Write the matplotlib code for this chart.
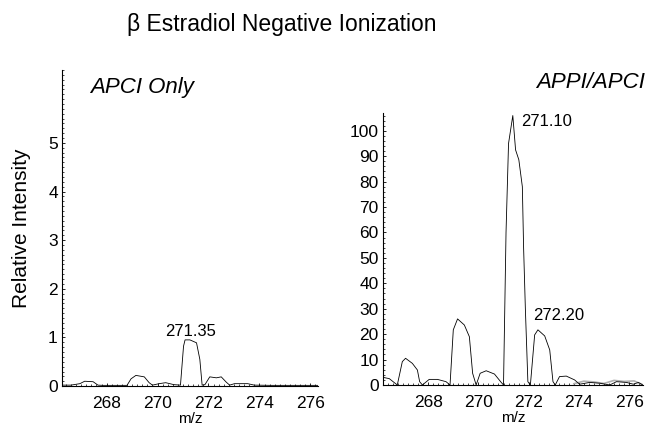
import numpy as np
import matplotlib
matplotlib.use("Agg")
import matplotlib.pyplot as plt
from matplotlib.ticker import MultipleLocator

plt.rcParams["font.family"] = ["Liberation Sans", "DejaVu Sans"]

# ── APCI only spectrum (left) ─────────────────────────────────
apci_mz = [266.25, 266.6, 266.95, 267.14, 267.47, 267.66, 267.86, 268.3, 268.8,
           268.96, 269.15, 269.48, 269.67, 269.8, 270.06, 270.32, 270.64, 270.9,
           271.02, 271.08, 271.27, 271.53, 271.66, 271.75, 271.86, 272.05, 272.31,
           272.5, 272.7, 272.83, 273.02, 273.54, 273.8, 274.5, 275.4, 276.3]
apci_int = [0.02, 0.02, 0.05, 0.1, 0.09, 0.02, 0.015, 0.015, 0.015,
            0.15, 0.22, 0.19, 0.07, 0.02, 0.05, 0.07, 0.03, 0.02,
            0.82, 0.95, 0.95, 0.89, 0.55, 0.02, 0.03, 0.19, 0.17,
            0.19, 0.08, 0.02, 0.05, 0.05, 0.02, 0.015, 0.015, 0.015]

# ── APPI/APCI spectrum (right) ────────────────────────────────
appi_mz = [266.2, 266.45, 266.77, 266.97, 267.1, 267.37, 267.57, 267.66, 267.77,
           268.04, 268.37, 268.71, 268.87, 269.0, 269.17, 269.44, 269.64, 269.77,
           269.91, 270.07, 270.31, 270.64, 270.91, 271.0, 271.1, 271.2, 271.37,
           271.48, 271.61, 271.75, 271.8, 271.87, 271.97, 272.07, 272.24, 272.37,
           272.64, 272.84, 272.97, 273.06, 273.23, 273.5, 273.83, 274.03, 274.43,
           274.83, 275.23, 275.5, 275.9, 276.17, 276.37, 276.55]
appi_int = [3, 2.5, 0, 9.2, 10.5, 8.5, 5.9, 1.3, 0,
            2.2, 2.2, 1.3, 0, 21.7, 26, 23.6, 19, 4.6,
            0, 4.6, 5.6, 4.3, 1, 0, 60, 95, 106,
            92.5, 88.6, 78, 54, 30, 1.3, 0, 19.7, 21.7,
            19.3, 13.8, 1.3, 0, 3.3, 3.5, 2, 0.3, 1,
            0.7, 0, 1.3, 1, 0.3, 1, 0]

# faint grey overlay trace near the right end
ghost_mz = [273.8, 274.2, 274.6, 275.0, 275.4, 275.8, 276.2, 276.5]
ghost_int = [0.5, 1.5, 1.2, 0.6, 1.8, 1.4, 1.6, 0.3]

fig = plt.figure(figsize=(6.53, 4.29), dpi=100)
ax1 = fig.add_axes([0.095, 0.100, 0.392, 0.737])
ax2 = fig.add_axes([0.5865, 0.1026, 0.398, 0.634])

ax1.plot(apci_mz, apci_int, color="black", lw=0.6)
ax2.plot(ghost_mz, ghost_int, color="#b0b0b0", lw=1.2)
ax2.plot(appi_mz, appi_int, color="black", lw=0.6)

ax1.set_xlim(266.25, 276.3)
ax1.set_ylim(0, 6.5)
ax1.set_xticks([268, 270, 272, 274, 276])
ax1.set_yticks([0, 1, 2, 3, 4, 5])
ax1.yaxis.set_minor_locator(MultipleLocator(0.1))
ax1.xaxis.set_minor_locator(MultipleLocator(0.2))

ax2.set_xlim(266.2, 276.55)
ax2.set_ylim(0, 107)
ax2.set_xticks([268, 270, 272, 274, 276])
ax2.set_yticks(np.arange(0, 101, 10))
ax2.yaxis.set_minor_locator(MultipleLocator(2))
ax2.xaxis.set_minor_locator(MultipleLocator(0.2))

for ax in (ax1, ax2):
    ax.spines["top"].set_visible(False)
    ax.spines["right"].set_visible(False)
    ax.spines["left"].set_linewidth(0.8)
    ax.spines["bottom"].set_linewidth(0.8)
    ax.tick_params(axis="both", which="major", labelsize=12.5, length=2,
                   width=0.6, direction="in", pad=3)
    ax.tick_params(axis="x", which="major", pad=7)
    ax.tick_params(axis="both", which="minor", length=1.5, width=0.5,
                   direction="in")
    ax.set_xlabel("m/z", fontsize=11, labelpad=1)

ax1.set_ylabel("Relative Intensity", fontsize=15, labelpad=12)

ax1.text(271.3, 1.13, "271.35", fontsize=12, ha="center", va="center")
ax2.text(271.72, 103.5, "271.10", fontsize=12, ha="left", va="center")
ax2.text(272.16, 27.2, "272.20", fontsize=12, ha="left", va="center")

fig.text(90 / 653, 1 - 88 / 429, "APCI Only", fontsize=16, style="italic",
         ha="left", va="center")
fig.text(645 / 653, 1 - 82 / 429, "APPI/APCI", fontsize=16, style="italic",
         ha="right", va="center")
fig.text(282 / 653, 1 - 25 / 429, "\u03b2 Estradiol Negative Ionization",
         fontsize=16.5, ha="center", va="center")

fig.savefig("out.png", dpi=100)
